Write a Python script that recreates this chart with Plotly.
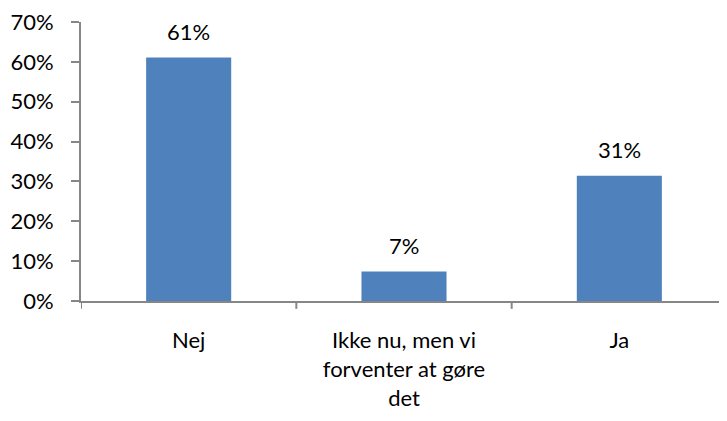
import plotly.graph_objects as go

categories = ["Nej", "Ikke nu, men vi<br>forventer at gøre<br>det", "Ja"]
values = [61.1, 7.4, 31.4]
labels = ["61%", "7%", "31%"]
y_ticks = [0, 10, 20, 30, 40, 50, 60, 70]
y_ticktext = [f"{v}%" for v in y_ticks]

FONT = "Lato, 'Open Sans', sans-serif"
AXIS_COLOR = "#868686"
FS = 22

fig = go.Figure()
fig.add_trace(go.Bar(
    x=list(range(len(categories))),
    y=values,
    marker=dict(color="#4F81BD", line=dict(width=0)),
    width=0.395,
    hoverinfo="skip",
))

for i, (v, t) in enumerate(zip(values, labels)):
    fig.add_annotation(x=i, y=v, text=t, showarrow=False, yshift=26,
                       yanchor="middle", font=dict(family=FONT, size=FS, color="#000000"))

# page body has an 8px default margin, so the figure is sized to fit inside
fig.update_layout(
    width=719, height=413,
    margin=dict(l=73, r=0, t=14, b=120),
    paper_bgcolor="white", plot_bgcolor="white",
    showlegend=False,
    font=dict(family=FONT, size=FS, color="#000000"),
)
fig.update_xaxes(
    range=[-0.5, 2.5],
    tickmode="array",
    tickvals=list(range(len(categories))),
    ticktext=categories,
    showline=True, linecolor=AXIS_COLOR, linewidth=2,
    ticks="", showgrid=False, zeroline=False,
    ticklabelstandoff=19,
    automargin=False,
    tickfont=dict(family=FONT, size=FS, color="#000000"),
)
for b in [-0.5, 0.5, 1.5]:
    fig.add_shape(type="line", xref="x", yref="paper", x0=b, x1=b, y0=0, y1=-0.028,
                  line=dict(color=AXIS_COLOR, width=2))

fig.update_yaxes(
    range=[0, 70],
    tickmode="array", tickvals=y_ticks, ticktext=y_ticktext,
    showline=True, linecolor=AXIS_COLOR, linewidth=2,
    ticks="outside", ticklen=8, tickcolor=AXIS_COLOR, tickwidth=2,
    showgrid=False, zeroline=False,
    ticklabelstandoff=13,
    ticklabeloverflow="allow",
    automargin=False,
    tickfont=dict(family=FONT, size=FS, color="#000000"),
)

fig.write_html("out.html")
